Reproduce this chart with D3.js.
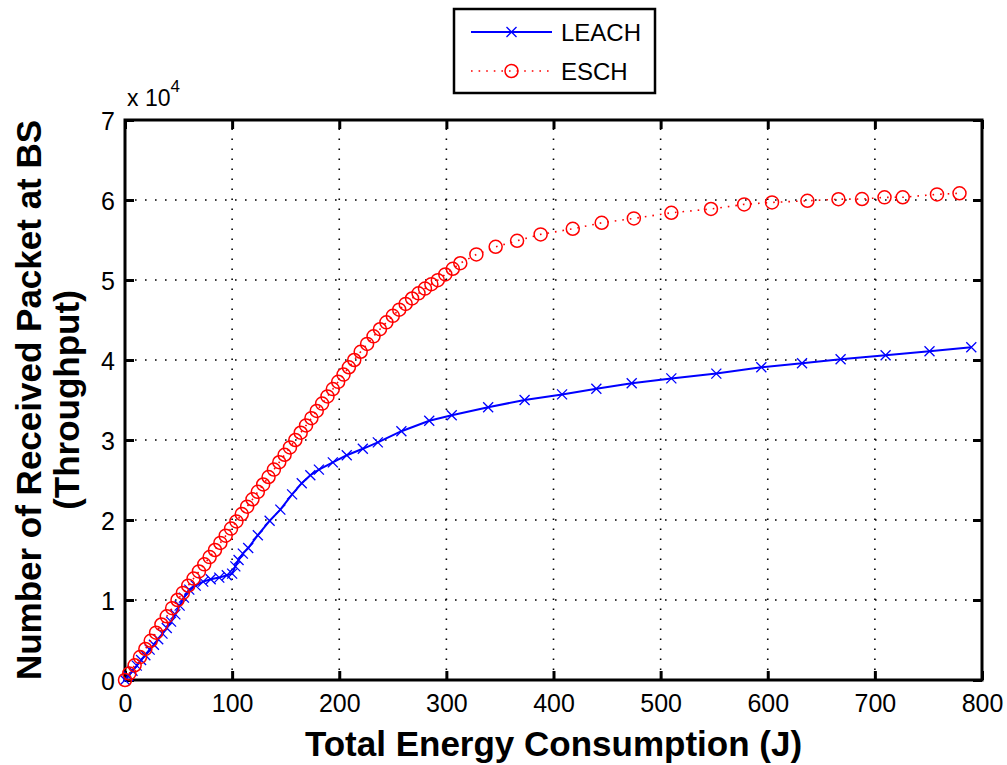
<!DOCTYPE html>
<html><head><meta charset="utf-8">
<script src="https://cdn.jsdelivr.net/npm/d3@7"></script>
<style>
html,body{margin:0;padding:0;background:#fff;}
svg{display:block;}
.tick-label{font-family:"Liberation Sans",Arial,sans-serif;font-size:25px;fill:#000;}
.axis-title{font-family:"Liberation Sans",Arial,sans-serif;font-weight:bold;font-size:35px;fill:#000;}
</style>
</head><body>
<svg id="chart" width="1007" height="765"></svg>
<script>
// ---- data ----
const xTicks = [0,100,200,300,400,500,600,700,800];
const yTicks = [0,10000,20000,30000,40000,50000,60000,70000];
const yTickLabels = ["0","1","2","3","4","5","6","7"];
const seriesNames = ["LEACH","ESCH"];

const leachX = [0,3,7,11,15,19,23,27,31,35,39,43,47,51,55,60,66,73,80,88,95,100,103,106,110,115,124,135,145,156,165,173,181,194,207,222,236,258,284,305,339,373,408,440,473,510,552,594,632,668,710,751,790];
const leachY = [0,500,1150,1800,2500,3100,3800,4400,5100,5800,6500,7300,8200,9300,10300,11300,11800,12300,12600,12800,13100,13300,14200,15000,15800,16500,18100,19900,21300,23200,24600,25600,26300,27200,28100,28900,29700,31100,32400,33100,34100,35000,35700,36400,37100,37700,38300,39100,39600,40100,40600,41100,41600];

const eschX = [0,4,9,14,19,24,29,34,39,44,49,54,59,64,69,74,79,84,89,94,99,104,109,114,119,124,129,134,139,144,149,154,159,164,169,174,179,184,189,194,199,204,209,214,220,226,232,238,244,250,256,262,268,274,280,286,292,299,306,313,328,346,366,388,418,445,475,510,547,578,604,637,666,688,709,726,758,779];
const eschY = [0,820,1840,2860,3880,4900,5920,6940,7960,8980,10000,10890,11790,12680,13570,14460,15360,16250,17140,18040,18930,19820,20740,21670,22590,23520,24440,25370,26300,27220,28150,29070,30000,30910,31820,32730,33640,34550,35450,36360,37270,38180,39090,40000,41030,42010,42960,43850,44710,45520,46290,47010,47690,48330,48930,49480,49980,50700,51400,52100,53200,54150,54900,55700,56400,57150,57700,58400,58880,59450,59700,59900,60100,60120,60330,60340,60700,60840];

// ---- layout ----
const svg = d3.select("#chart");
const L = 125, R = 982, T = 120, B = 680;
const x = d3.scaleLinear().domain([0,800]).range([L,R]);
const y = d3.scaleLinear().domain([0,70000]).range([B,T]);

// grid
const grid = svg.append("g");
grid.selectAll("line.gx").data(xTicks.slice(1,-1)).enter().append("line")
  .attr("x1",d=>x(d)).attr("x2",d=>x(d)).attr("y1",B).attr("y2",T)
  .attr("stroke","#000").attr("stroke-width",1.6).attr("stroke-dasharray","1.6,8.4");
grid.selectAll("line.gy").data(yTicks.slice(1,-1)).enter().append("line")
  .attr("x1",L).attr("x2",R).attr("y1",d=>y(d)).attr("y2",d=>y(d))
  .attr("stroke","#000").attr("stroke-width",1.6).attr("stroke-dasharray","1.6,8.4");

// axes with inward ticks on all four sides
const tl = 9;
svg.append("g").attr("transform",`translate(0,${B})`)
  .call(d3.axisBottom(x).tickValues(xTicks).tickSize(-tl).tickFormat(d3.format("d")))
  .call(g=>{g.select(".domain").remove();g.selectAll("line").attr("stroke-width",3);
    g.selectAll("text").attr("class","tick-label").attr("y",32).attr("dy",null);});
svg.append("g").attr("transform",`translate(0,${T})`)
  .call(d3.axisTop(x).tickValues(xTicks).tickSize(-tl).tickFormat(""))
  .call(g=>{g.select(".domain").remove();g.selectAll("line").attr("stroke-width",3);});
svg.append("g").attr("transform",`translate(${L},0)`)
  .call(d3.axisLeft(y).tickValues(yTicks).tickSize(-tl).tickFormat((d,i)=>yTickLabels[i]))
  .call(g=>{g.select(".domain").remove();g.selectAll("line").attr("stroke-width",3);
    g.selectAll("text").attr("class","tick-label").attr("x",-10).attr("dy","0.36em");});
svg.append("g").attr("transform",`translate(${R},0)`)
  .call(d3.axisRight(y).tickValues(yTicks).tickSize(-tl).tickFormat(""))
  .call(g=>{g.select(".domain").remove();g.selectAll("line").attr("stroke-width",3);});
svg.selectAll("g").attr("font-size",null).attr("font-family",null);

// frame
svg.append("rect").attr("x",L).attr("y",T).attr("width",R-L).attr("height",B-T)
  .attr("fill","none").attr("stroke","#000").attr("stroke-width",3);

// exponent
const ex = svg.append("text").attr("class","tick-label").attr("x",127).attr("y",106).style("font-size","23px");
ex.append("tspan").text("x 10");
ex.append("tspan").attr("dy",-14).style("font-size","17px").text("4");

// series
const leach = leachX.map((v,i)=>[v,leachY[i]]);
const esch = eschX.map((v,i)=>[v,eschY[i]]);
const line = d3.line().x(d=>x(d[0])).y(d=>y(d[1]));

svg.append("path").datum(leach).attr("d",line).attr("fill","none")
  .attr("stroke","#0000ff").attr("stroke-width",2);
const xm = 5;
function xMark(g,cx,cy,color){
  g.append("path").attr("d",`M${cx-xm},${cy-xm}L${cx+xm},${cy+xm}M${cx-xm},${cy+xm}L${cx+xm},${cy-xm}`)
   .attr("stroke",color).attr("stroke-width",1.3).attr("fill","none");
}
const lm = svg.append("g");
leach.forEach(d=>xMark(lm,x(d[0]),y(d[1]),"#0000ff"));

svg.append("path").datum(esch).attr("d",line).attr("fill","none")
  .attr("stroke","#ff0000").attr("stroke-width",1.6).attr("stroke-dasharray","1.6,6");
svg.append("g").selectAll("circle").data(esch).enter().append("circle")
  .attr("cx",d=>x(d[0])).attr("cy",d=>y(d[1])).attr("r",6.5)
  .attr("fill","none").attr("stroke","#ff0000").attr("stroke-width",1.5);

// legend
const lg = svg.append("g");
lg.append("rect").attr("x",454).attr("y",9).attr("width",201).attr("height",84)
  .attr("fill","#fff").attr("stroke","#000").attr("stroke-width",2.5);
lg.append("line").attr("x1",471).attr("x2",552).attr("y1",32).attr("y2",32)
  .attr("stroke","#0000ff").attr("stroke-width",2);
xMark(lg,511.5,32,"#0000ff");
lg.append("line").attr("x1",471).attr("x2",552).attr("y1",71).attr("y2",71)
  .attr("stroke","#ff0000").attr("stroke-width",1.6).attr("stroke-dasharray","1.6,6");
lg.append("circle").attr("cx",511.5).attr("cy",71).attr("r",6.5)
  .attr("fill","none").attr("stroke","#ff0000").attr("stroke-width",1.5);
lg.selectAll("text.lt").data(seriesNames).enter().append("text").attr("class","tick-label")
  .attr("x",561).attr("y",(d,i)=>[32,71][i]).attr("dy","0.36em").style("font-size","24px").text(d=>d);

// titles
svg.append("text").attr("class","axis-title").attr("x",(L+R)/2).attr("y",756)
  .attr("text-anchor","middle").text("Total Energy Consumption (J)");
const yt = svg.append("text").attr("class","axis-title").attr("text-anchor","middle")
  .attr("transform",`translate(41,${(T+B)/2}) rotate(-90)`);
yt.append("tspan").attr("x",0).attr("y",0).text("Number of Received Packet at BS");
yt.append("tspan").attr("x",0).attr("y",38).text("(Throughput)");
</script>
</body></html>
